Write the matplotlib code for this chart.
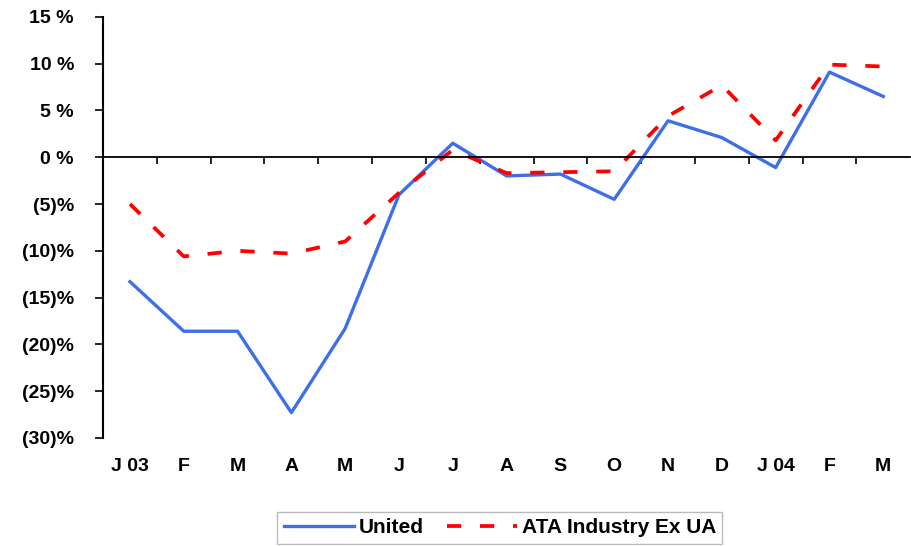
import numpy as np
import matplotlib.pyplot as plt
import matplotlib.transforms as mtransforms

months = ["J 03", "F", "M", "A", "M", "J", "J", "A", "S", "O", "N", "D", "J 04", "F", "M"]
united = [-13.3, -18.6, -18.6, -27.3, -18.3, -4.0, 1.5, -2.0, -1.8, -4.5, 3.9, 2.1, -1.1, 9.1, 6.5]
ata = [-5.0, -10.6, -10.0, -10.3, -9.0, -3.8, 0.8, -1.7, -1.6, -1.5, 4.4, 7.7, 1.8, 9.9, 9.7]
yticks = [15, 10, 5, 0, -5, -10, -15, -20, -25, -30]
ylabels = ["15 %", "10 %", "5 %", "0 %", "(5)%", "(10)%", "(15)%", "(20)%", "(25)%", "(30)%"]

plt.rcParams["font.family"] = ["Liberation Sans", "DejaVu Sans"]
plt.rcParams["font.weight"] = "bold"

fig = plt.figure(figsize=(9.12, 5.46), dpi=100)
ax = fig.add_axes([0.113, 0.198, 0.885, 0.771])

x = np.arange(len(months))
ax.plot(x, united, color="#3f6fe8", lw=2.4, label="United")
ax.plot(x, ata, color="#ff0000", lw=2.7, dashes=(3.8, 5), label="ATA Industry Ex UA")

ax.set_xlim(-0.5, len(months) - 0.5)
ax.set_ylim(-30, 15)
ax.set_yticks(yticks)
ax.set_yticklabels(ylabels, fontsize=14, fontweight="bold")
ax.tick_params(axis="y", direction="out", length=6, width=1.2, pad=15)

for s in ["top", "right"]:
    ax.spines[s].set_visible(False)
ax.spines["left"].set_linewidth(1.5)
ax.spines["bottom"].set_position(("data", 0))
ax.spines["bottom"].set_linewidth(1.3)
ax.set_xticks(np.arange(0.5, len(months) - 0.5, 1))
ax.set_xticklabels([])
ax.tick_params(axis="x", direction="out", length=5, width=1.2)

trans = mtransforms.blended_transform_factory(ax.transData, ax.transAxes)
for i, m in enumerate(months):
    ax.text(i, -0.068, m, transform=trans, ha="center", va="center",
            fontsize=14, fontweight="bold")

leg = fig.legend(loc="center", bbox_to_anchor=(0.548, 0.033), ncol=2,
                 frameon=True, fancybox=False, handlelength=3.4,
                 handletextpad=0.2, columnspacing=1.1, borderpad=0.3,
                 prop={"size": 15, "weight": "bold"})
leg.get_frame().set_edgecolor("#aaaaaa")
leg.get_frame().set_linewidth(1.0)

fig.savefig("out.png", dpi=100)
